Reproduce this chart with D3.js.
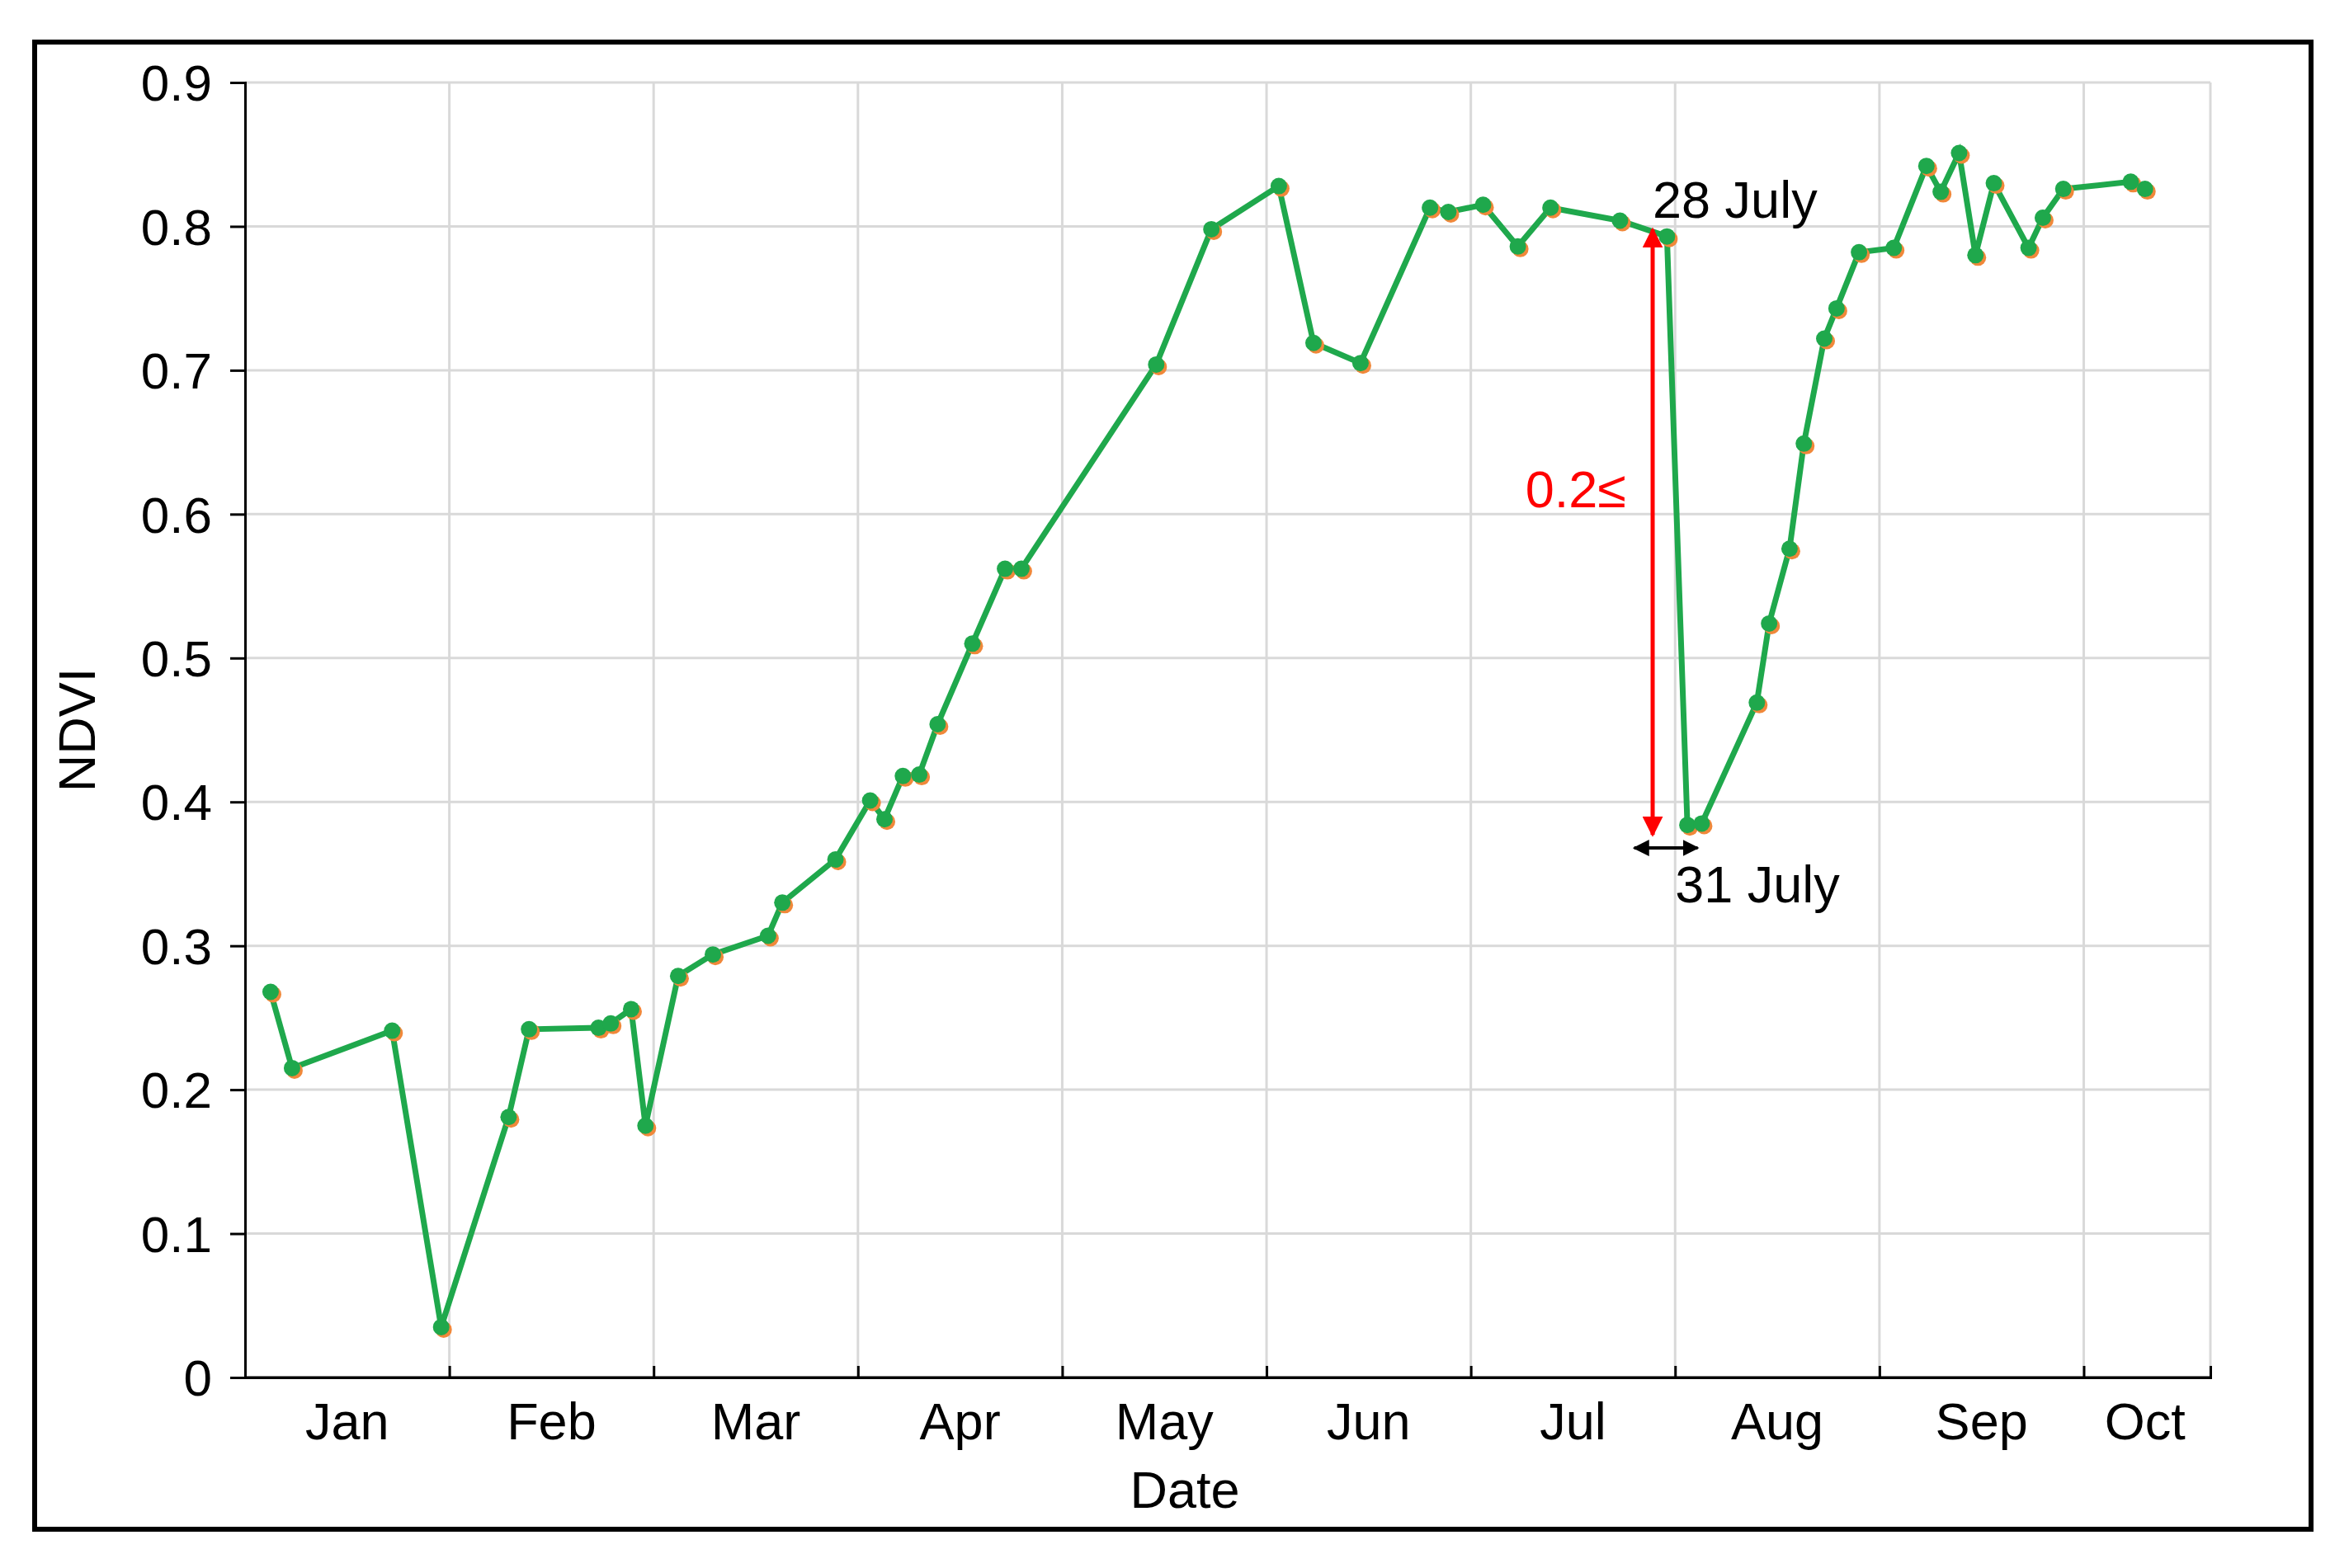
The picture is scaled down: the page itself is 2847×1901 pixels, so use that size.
<!DOCTYPE html>
<html><head><meta charset="utf-8">
<script src="https://cdn.jsdelivr.net/npm/d3@7"></script>
<style>body{margin:0;background:#fff}text{font-family:"Liberation Sans",Arial,sans-serif}</style>
</head><body><svg id="chart" width="2847" height="1901"></svg>
<script>
// x = months since 1 Jan (month-index units), y = NDVI
const months = ["Jan","Feb","Mar","Apr","May","Jun","Jul","Aug","Sep","Oct"];
const yTicks = [0,0.1,0.2,0.3,0.4,0.5,0.6,0.7,0.8,0.9];
const dateX = [0.125,0.23,0.72,0.96,1.29,1.39,1.73,1.79,1.89,1.96,2.12,2.29,2.56,2.63,2.89,3.06,3.13,3.22,3.30,3.39,3.56,3.72,3.80,4.46,4.73,5.06,5.23,5.46,5.80,5.89,6.06,6.23,6.39,6.73,6.96,7.06,7.13,7.40,7.46,7.56,7.63,7.73,7.79,7.90,8.07,8.23,8.30,8.39,8.47,8.56,8.73,8.80,8.90,9.23,9.30];
const ndvi = [0.268,0.215,0.241,0.035,0.181,0.242,0.243,0.246,0.256,0.175,0.279,0.294,0.307,0.330,0.360,0.401,0.388,0.418,0.419,0.454,0.510,0.562,0.562,0.704,0.798,0.828,0.719,0.705,0.813,0.810,0.815,0.786,0.813,0.804,0.793,0.384,0.385,0.469,0.524,0.576,0.649,0.722,0.743,0.782,0.785,0.842,0.824,0.851,0.780,0.830,0.785,0.806,0.826,0.831,0.826];

const svg = d3.select("#chart");
const L = 297, R = 2679, T = 100, B = 1670;
const x = d3.scaleLinear().domain([0, 9.62]).range([L, R]);
const y = d3.scaleLinear().domain([0, 0.9]).range([B, T]);

svg.append("rect").attr("x",42).attr("y",51).attr("width",2759).attr("height",1803)
  .attr("fill","none").attr("stroke","#000").attr("stroke-width",6);

// grid
svg.append("g").selectAll("line").data(yTicks.slice(1)).join("line")
  .attr("x1",L).attr("x2",R).attr("y1",d=>y(d)).attr("y2",d=>y(d))
  .attr("stroke","#d9d9d9").attr("stroke-width",3);
svg.append("g").selectAll("line").data(d3.range(1,10).concat([9.62])).join("line")
  .attr("x1",d=>x(d)).attr("x2",d=>x(d)).attr("y1",T).attr("y2",B)
  .attr("stroke","#d9d9d9").attr("stroke-width",3);

// axes
const yAxis = svg.append("g").attr("transform",`translate(${L},0)`)
  .call(d3.axisLeft(y).tickValues(yTicks).tickFormat(d=>d===0?"0":d3.format(".1f")(d)).tickSize(18).tickPadding(22));
const xAxis = svg.append("g").attr("transform",`translate(0,${B})`)
  .call(d3.axisBottom(x).tickValues(d3.range(1,10)).tickFormat("").tickSize(-14));
svg.append("line").attr("x1",L).attr("x2",R).attr("y1",B).attr("y2",B).attr("stroke","#000").attr("stroke-width",3);
[yAxis,xAxis].forEach(g=>{
  g.select(".domain").attr("stroke","#000").attr("stroke-width",3);
  g.selectAll(".tick line").attr("stroke","#000").attr("stroke-width",3);
  g.selectAll("text").attr("font-size",62).attr("fill","#000").style("font-family","Liberation Sans, Arial, sans-serif");
});
yAxis.selectAll("text").attr("dy","0.35em");

svg.append("g").selectAll("text").data(months).join("text")
  .attr("x",(d,i)=>x(Math.min(i+0.5, 9.3))).attr("y",1745).attr("text-anchor","middle")
  .attr("font-size",63).text(d=>d);
svg.append("text").attr("x",x(4.6)).attr("y",1828).attr("text-anchor","middle").attr("font-size",63).text("Date");
svg.append("text").attr("transform",`translate(115,${y(0.45)}) rotate(-90)`).attr("text-anchor","middle")
  .attr("font-size",63).text("NDVI");

// series
const pts = dateX.map((d,i)=>[d, ndvi[i]]);
svg.append("path").datum(pts).attr("fill","none").attr("stroke","#1fa84c").attr("stroke-width",7)
  .attr("d", d3.line().x(d=>x(d[0])).y(d=>y(d[1])));
svg.append("g").selectAll("circle").data(pts).join("circle")
  .attr("cx",d=>x(d[0])+3).attr("cy",d=>y(d[1])+3).attr("r",10).attr("fill","#f0883a");
svg.append("g").selectAll("circle").data(pts).join("circle")
  .attr("cx",d=>x(d[0])).attr("cy",d=>y(d[1])).attr("r",10).attr("fill","#1fa84c");

// annotations
const defs = svg.append("defs");
[["red","#ff0000"],["blk","#000"]].forEach(([id,c])=>{
  defs.append("marker").attr("id",id).attr("viewBox","0 0 10 10").attr("refX",9).attr("refY",5)
    .attr("markerWidth",5).attr("markerHeight",5).attr("orient","auto-start-reverse")
    .append("path").attr("d","M0,0L10,5L0,10z").attr("fill",c);
});
const dropX = 6.89, dropTop = 0.798, dropBot = 0.377;
svg.append("line").attr("x1",x(dropX)).attr("x2",x(dropX)).attr("y1",y(dropBot)).attr("y2",y(dropTop))
  .attr("stroke","#ff0000").attr("stroke-width",5)
  .attr("marker-start","url(#red)").attr("marker-end","url(#red)");
const spanX = [6.80, 7.11], spanY = 0.368;
svg.append("line").attr("x1",x(spanX[0])).attr("x2",x(spanX[1])).attr("y1",y(spanY)).attr("y2",y(spanY))
  .attr("stroke","#000").attr("stroke-width",4)
  .attr("marker-start","url(#blk)").attr("marker-end","url(#blk)");
svg.append("text").attr("x",x(6.76)).attr("y",y(0.605)).attr("text-anchor","end")
  .attr("font-size",63).attr("fill","#ff0000").text("0.2≤");
svg.append("text").attr("x",x(6.89)).attr("y",y(0.806)).attr("font-size",63).text("28 July");
svg.append("text").attr("x",x(7.0)).attr("y",y(0.33)).attr("font-size",63).text("31 July");
</script></body></html>
